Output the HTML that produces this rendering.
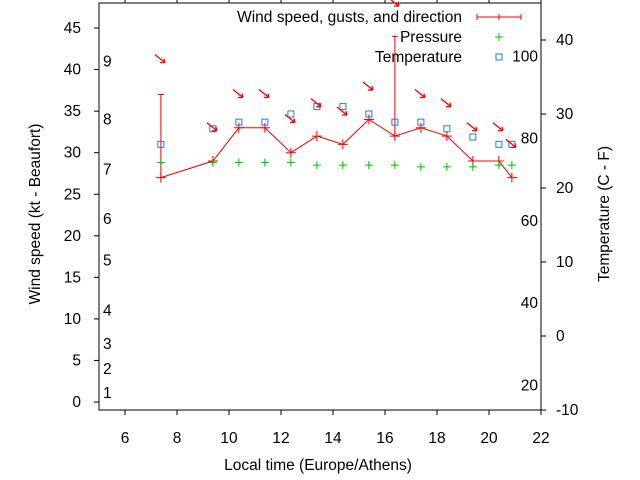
<!DOCTYPE html>
<html><head><meta charset="utf-8"><style>
html,body{margin:0;padding:0;background:#fff}
svg{display:block;font-family:"Liberation Sans",sans-serif;font-size:15.5px}
</style></head><body>
<svg id="c" width="640" height="480"></svg>
<script>
const hours=[7.38,9.38,10.38,11.38,12.38,13.38,14.38,15.38,16.38,17.38,18.38,19.38,20.38,20.88];
const windSpeed=[27,29,33,33,30,32,31,34,32,33,32,29,29,27];
const gusts=[37,null,null,null,null,null,null,null,44,null,null,null,null,null];
const pressure=[28.8,28.8,28.8,28.8,28.8,28.5,28.5,28.5,28.5,28.3,28.3,28.3,28.5,28.5];
const temperature=[25.9,28,28.9,28.9,30,31,31,30,28.9,28.9,28,26.9,25.9,25.9];
const arrowLevel=[41.2,33,37,37,34,35.9,34.9,37.9,48,37,35.9,33,33,31];
const xTicks=[6,8,10,12,14,16,18,20,22];
const yTicks=[0,5,10,15,20,25,30,35,40,45];
const y2Ticks=[-10,0,10,20,30,40];
const beaufort=[[1,1.1],[2,4],[3,7],[4,11],[5,17],[6,22],[7,28],[8,34],[9,41]];
const fahr=[20,40,60,80,100];

const L=99,R=541,T=3,B=410;
const X=h=>L+(h-5)*26;
const Y=v=>402-v*8.31;
const Y2=c=>410-(c+10)*7.4;
const svg=document.getElementById('c');
const NS='http://www.w3.org/2000/svg';
function mk(tag,attrs,parent){const e=document.createElementNS(NS,tag);for(const k in attrs)e.setAttribute(k,attrs[k]);(parent||svg).appendChild(e);return e;}
function txt(x,y,s,anchor,extra){const t=mk('text',Object.assign({x:x,y:y,'text-anchor':anchor||'middle'},extra||{}));t.textContent=s;return t;}

let e=mk('rect',{x:L,y:T,width:R-L,height:B-T,fill:'none',stroke:'#000','stroke-width':1});



xTicks.forEach(h=>{
  mk('line',{x1:X(h),x2:X(h),y1:B,y2:B+5,stroke:'#000'});
  mk('line',{x1:X(h),x2:X(h),y1:T,y2:T-5,stroke:'#000'});
  const t=txt(X(h),B+33,String(h));
  
  
});
yTicks.forEach(v=>{
  mk('line',{x1:L-5,x2:L,y1:Y(v),y2:Y(v),stroke:'#000'});
  const t=txt(L-18,Y(v)+5,String(v),'end');
  
  
});
y2Ticks.forEach(c=>{
  mk('line',{x1:R,x2:R+5,y1:Y2(c),y2:Y2(c),stroke:'#000'});
  const t=txt(R+15,Y2(c)+5,String(c),'start');
  
  
});
beaufort.forEach(b=>{
  const t=txt(103,Y(b[1])+5,String(b[0]),'start');
  
  
});
fahr.forEach(f=>{
  const c=(f-32)*5/9;
  const t=txt(538,Y2(c)+5,String(f),'end');
  
  
});

let t=txt(318,470,'Local time (Europe/Athens)');


t=txt(0,0,'Wind speed (kt - Beaufort)','middle',{transform:'translate(40,214) rotate(-90)'});


t=txt(0,0,'Temperature (C - F)','middle',{transform:'translate(609,214) rotate(-90)'});



const pts=hours.map((h,i)=>X(h)+','+Y(windSpeed[i])).join(' ');
e=mk('polyline',{points:pts,fill:'none',stroke:'#f00','stroke-width':1});


hours.forEach((h,i)=>{
  const x=X(h),y=Y(windSpeed[i]);
  e=mk('path',{d:`M${x-5},${y}h10M${x},${y-5}v10`,stroke:'#f00'});
  
  
  if(gusts[i]!=null){
    const g=Y(gusts[i]);
    e=mk('path',{d:`M${x},${y}V${g}M${x-3},${g}h6`,stroke:'#f00'});
    
    
  }
  const py=Y(pressure[i]);
  e=mk('path',{d:`M${x-4},${py}h8M${x},${py-4}v8`,stroke:'#0b0'});
  
  
  const ty=Y2(temperature[i]);
  e=mk('rect',{x:x-3,y:ty-3,width:6,height:6,fill:'none',stroke:'#1a7fe0'});
  
  
  const ay=Y(arrowLevel[i]);
  e=mk('path',{d:`M${x-6},${ay-5}L${x+4},${ay+3}M${x+4},${ay+3}l-5,0M${x+4},${ay+3}l-1,-4`,stroke:'#f00','stroke-width':1.3,fill:'none'});
  
  
});

t=txt(462,22,'Wind speed, gusts, and direction','end');


e=mk('path',{d:'M477,17h44M477,14v6M521,14v6M499,14v6',stroke:'#f00'});


t=txt(462,42,'Pressure','end');


e=mk('path',{d:'M495,37h8M499,33v8',stroke:'#0b0'});


t=txt(462,62,'Temperature','end');


e=mk('rect',{x:496,y:54,width:6,height:6,fill:'none',stroke:'#1a7fe0'});


</script>
</body></html>
